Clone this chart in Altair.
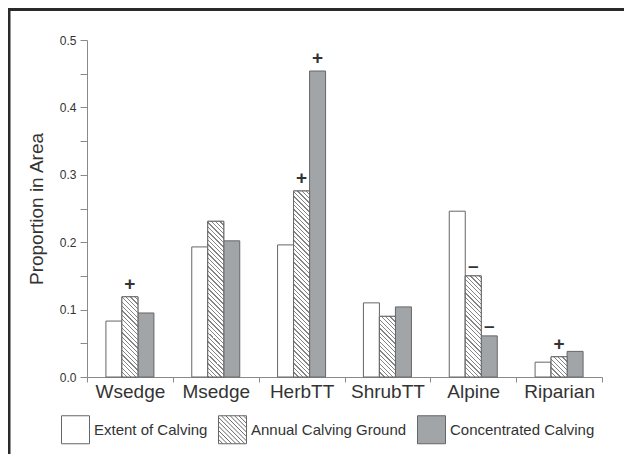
import altair as alt
import pandas as pd

# ---- data ----
categories = ["Wsedge", "Msedge", "HerbTT", "ShrubTT", "Alpine", "Riparian"]
series = ["Extent of Calving", "Annual Calving Ground", "Concentrated Calving"]
extent = [0.083, 0.193, 0.196, 0.110, 0.246, 0.022]
annual = [0.119, 0.231, 0.276, 0.090, 0.150, 0.030]
concentrated = [0.095, 0.202, 0.454, 0.104, 0.061, 0.038]
mark_extent = ["", "", "", "", "", ""]
mark_annual = ["+", "", "+", "", "\u2013", "+"]
mark_concentrated = ["", "", "+", "", "\u2013", ""]
y_ticks = [0.0, 0.05, 0.1, 0.15, 0.2, 0.25, 0.3, 0.35, 0.4, 0.45, 0.5]

rows = []
for vals, marks, s in [(extent, mark_extent, series[0]),
                       (annual, mark_annual, series[1]),
                       (concentrated, mark_concentrated, series[2])]:
    for c, v, m in zip(categories, vals, marks):
        rows.append({"category": c, "series": s, "value": v, "mark": m})
df = pd.DataFrame(rows)

# ---- layout ----
W, H = 515, 337
Y_MAX = 0.5
BAR_W = 16
STEP = W / len(categories)
GROUP = BAR_W * len(series)
SWATCH = 28
PERIOD = 4.4

FONT = "Liberation Sans"
TXT = "#333333"
AXC = "#8a8a8a"
EDGE = "#666666"
COLORS = ["#ffffff", "#ffffff", "#a2a5a7"]


def hatch(w, h, period=PERIOD, lw=1.25, line="#858585", bg="#ffffff"):
    """Diagonal '\\' hatching as a hard-stop linear gradient (objectBoundingBox)."""
    L = w + h
    s = (w + h) / (w * w + h * h)
    stops = []
    k = 0
    while k * period <= L:
        a = k * period / L
        b = min((k * period + lw) / L, 1.0)
        stops += [{"offset": a, "color": bg}, {"offset": a, "color": line},
                  {"offset": b, "color": line}, {"offset": b, "color": bg}]
        k += 1
    stops.append({"offset": 1.0, "color": bg})
    return {"gradient": "linear", "x1": 0, "y1": 1, "x2": w * s, "y2": 1 - h * s,
            "stops": stops}


def hatch_symbol(side=SWATCH, period=PERIOD):
    """Square symbol path in [-1,1] with '\\' hatch lines."""
    p = "M-1,-1H1V1H-1Z"
    step = period / (side / 2.0)
    c = -2 + step
    while c < 2 - 1e-6:
        if c >= 0:
            p += " M%.3f,-1L1,%.3f" % (-1 + c, 1 - c)
        else:
            p += " M-1,%.3fL%.3f,1" % (-1 - c, 1 + c)
        c += step
    return p


x_enc = alt.X("category:N",
              scale=alt.Scale(domain=categories, paddingInner=0, paddingOuter=0, round=False),
              axis=alt.Axis(title=None, labelAngle=0, labelFont=FONT, labelFontSize=19,
                            labelColor=TXT, labelPadding=0, domainColor=AXC, tickColor=AXC,
                            tickSize=5, tickBand="extent", grid=False))
xo_enc = alt.XOffset("series:N",
                     scale=alt.Scale(domain=series, paddingInner=0, paddingOuter=0, round=False,
                                     range=[(STEP - GROUP) / 2, (STEP + GROUP) / 2]))
y_enc = alt.Y("value:Q",
              scale=alt.Scale(domain=[0, Y_MAX], nice=False, zero=True),
              axis=alt.Axis(title="Proportion in Area", values=y_ticks,
                            labelExpr="abs(datum.value*10 - round(datum.value*10)) < 0.001 ? format(datum.value, '.1f') : ''",
                            labelFont=FONT, labelFontSize=12, labelColor=TXT, labelPadding=4,
                            tickSize=7, tickColor=AXC, domainColor=AXC, grid=False,
                            titleFont=FONT, titleFontSize=19, titleFontWeight="normal",
                            titleColor=TXT, titlePadding=13))

base = alt.Chart(df).encode(x=x_enc, xOffset=xo_enc, y=y_enc)

fill_scale = alt.Scale(domain=series, range=COLORS)
shape_scale = alt.Scale(domain=series, range=["square", hatch_symbol(), "square"])
stroke_scale = alt.Scale(domain=series, range=[EDGE, EDGE, EDGE])

legend = alt.Legend(
    title=None, orient="none", legendX=-26, legendY=375, direction="horizontal",
    symbolSize=SWATCH * SWATCH, symbolStrokeWidth=1, symbolOpacity=1,
    labelFont=FONT, labelFontSize=15, labelColor=TXT, labelOffset=4,
    columnPadding=8, padding=0, offset=0)

bars = base.mark_bar(stroke=EDGE, strokeWidth=1).encode(
    fill=alt.Fill("series:N", scale=fill_scale, legend=legend))

layers = [bars]
for c, v in zip(categories, annual):
    h = v / Y_MAX * H
    layers.append(
        base.transform_filter(
            "datum.category === '%s' && datum.series === '%s'" % (c, series[1]))
        .mark_bar(fill=hatch(BAR_W, h), stroke=EDGE, strokeWidth=1))

# invisible point layer that only supplies the legend swatches (incl. hatched one)
legend_layer = base.mark_point(
    filled=True, strokeWidth=1, size=SWATCH * SWATCH, opacity=0
).encode(
    fill=alt.Fill("series:N", scale=fill_scale, legend=legend),
    shape=alt.Shape("series:N", scale=shape_scale, legend=legend),
    stroke=alt.Stroke("series:N", scale=stroke_scale, legend=legend),
)
layers.append(legend_layer)

plus = base.transform_filter("datum.mark === '+'").mark_text(
    font=FONT, fontSize=19, fontWeight="bold", color=TXT, baseline="middle", dy=-13
).encode(text="mark:N")
minus = base.transform_filter("datum.mark === '\u2013'").mark_text(
    font=FONT, fontSize=19, fontWeight="bold", color=TXT, baseline="middle", dy=-10
).encode(text="mark:N")
layers += [plus, minus]

one = pd.DataFrame({"k": [0]})
top_border = alt.Chart(one).mark_rule(color="#2a2a2a", strokeWidth=3).encode(
    x=alt.value(-79), x2=alt.value(W + 22), y=alt.value(-30.5))
left_border = alt.Chart(one).mark_rule(color="#2a2a2a", strokeWidth=3).encode(
    x=alt.value(-78), y=alt.value(-32), y2=alt.value(H + 77))
layers += [top_border, left_border]

chart = alt.layer(*layers).properties(
    width=W, height=H,
    autosize=alt.AutoSizeParams(type="none"),
    padding={"left": 79, "top": 32, "right": 22, "bottom": 77},
    background="white",
).configure_view(stroke=None)

chart.save("out.html", embed_options={"renderer": "svg", "actions": False})
